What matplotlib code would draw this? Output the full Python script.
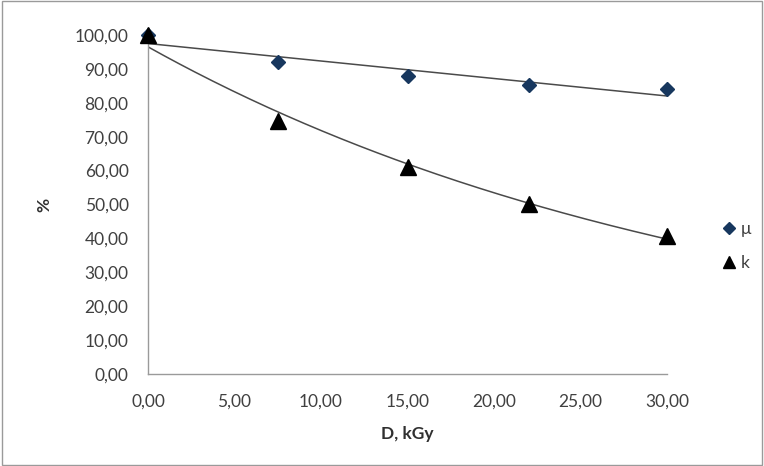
import numpy as np
import matplotlib
matplotlib.use("Agg")
import matplotlib.pyplot as plt
from matplotlib.ticker import FuncFormatter, MultipleLocator
from matplotlib.lines import Line2D

dose = [0.0, 7.5, 15.0, 22.0, 30.0]
mu = [100.0, 91.9, 87.8, 85.2, 84.1]
k = [100.0, 74.6, 61.1, 50.1, 40.6]
series_names = ["μ", "k"]
x_label = "D, kGy"
y_label = "%"

plt.rcParams['font.family'] = ['Lato', 'DejaVu Sans']

W, H = 764, 466
fig = plt.figure(figsize=(W / 100, H / 100), dpi=100)
ax = fig.add_axes([148 / W, 1 - 374 / H, (667 - 148) / W, (374 - 35) / H])

# border around the chart
fig.patches.append(plt.Rectangle((0.002, 0.003), 0.996, 0.994, transform=fig.transFigure,
                                 fill=False, edgecolor="#9a9a9a", linewidth=1.0))

xd = np.array(dose)
xs = np.linspace(0, 30, 200)
# linear trend for mu
p = np.polyfit(xd, np.array(mu), 1)
ax.plot(xs, np.polyval(p, xs), color="#4a4a4a", lw=1.1, zorder=2)
# exponential trend for k
pe = np.polyfit(xd, np.log(np.array(k)), 1)
ax.plot(xs, np.exp(np.polyval(pe, xs)), color="#4a4a4a", lw=1.1, zorder=2)

ax.plot(dose, mu, linestyle="none", marker="D", markersize=7, color="#17375E", zorder=3, clip_on=False)
ax.plot(dose, k, linestyle="none", marker="^", markersize=11, color="black", zorder=3, clip_on=False)

ax.set_xlim(0, 30)
ax.set_ylim(0, 100)
ax.xaxis.set_major_locator(MultipleLocator(5))
ax.yaxis.set_major_locator(MultipleLocator(10))
fmt = FuncFormatter(lambda v, pos: f"{v:.2f}".replace(".", ","))
ax.xaxis.set_major_formatter(fmt)
ax.yaxis.set_major_formatter(fmt)
ax.tick_params(length=0, labelsize=12.5, colors="#404040")
ax.tick_params(axis="y", pad=14)
ax.tick_params(axis="x", pad=14)
for s in ["top", "right"]:
    ax.spines[s].set_visible(False)
for s in ["left", "bottom"]:
    ax.spines[s].set_color("#9a9a9a")
    ax.spines[s].set_linewidth(1.0)

ax.set_xlabel(x_label, fontsize=12.5, fontweight="bold", color="#303030", labelpad=12)
ax.set_ylabel(y_label, fontsize=12.5, fontweight="bold", color="#303030", labelpad=16)

handles = [Line2D([], [], linestyle="none", marker="D", markersize=6, color="#17375E"),
           Line2D([], [], linestyle="none", marker="^", markersize=9, color="black")]
fig.legend(handles, series_names, loc="center left", bbox_to_anchor=(703 / W, 1 - 246 / H),
           frameon=False, fontsize=12.5, handletextpad=0.1, labelspacing=1.0, handlelength=1.2,
           labelcolor="#404040")

fig.savefig("out.png", dpi=100)
